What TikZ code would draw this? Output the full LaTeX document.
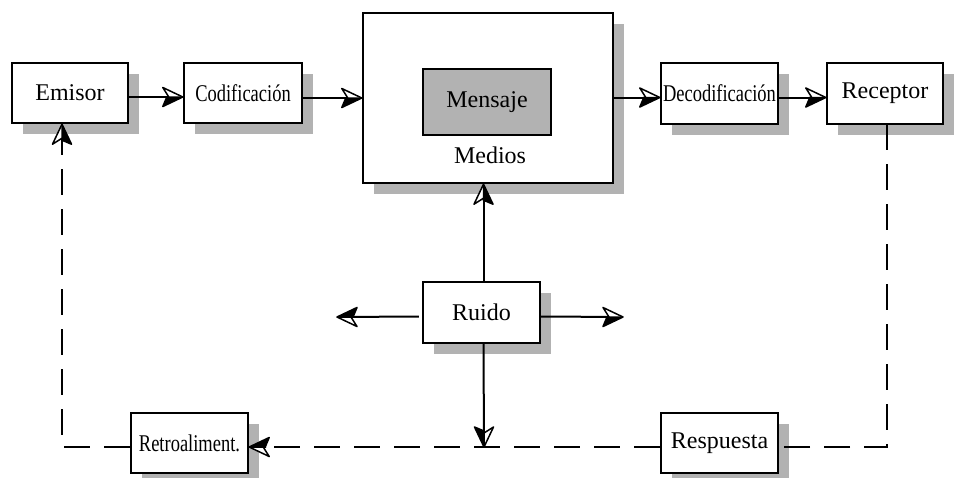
\documentclass[tikz,border=0pt]{standalone}
\usepackage{fontspec}
\setmainfont{Liberation Serif}
\usepackage{graphicx}
\usetikzlibrary{shadows}
\tikzset{
  txt/.style={font=\fontsize{24}{28}\selectfont},
  box/.style={txt, draw, line width=2.4pt, fill=white, minimum width=117pt,
    minimum height=60pt, inner sep=0pt,
    drop shadow={shadow xshift=11pt, shadow yshift=-11pt, fill=black!30, opacity=1}},
  conn/.style={line width=2pt, shorten >=3pt},
  fbline/.style={line width=2pt, dash pattern=on 26pt off 14pt, shorten >=3pt},
  halfhead/.pic={
    \fill[white]
      (0,0) -- (-20,-9.5) -- (-14,0) -- cycle;
    \filldraw[black, line width=1.5pt, line join=round, solid]
      (0,0) -- (-20,9.5) -- (-16,0) -- cycle;
    \draw[black, line width=1.5pt, line join=round, solid]
      (0,0) -- (-20,-9.5) -- (-14,0) -- (-17,0);
  }
}
\begin{document}
\begin{tikzpicture}[x=1pt, y=-1pt]
\useasboundingbox (0,0) rectangle (957,477);
% nodes
\node[box, minimum width=116pt] (emisor) at (70,93) {Emisor};
\node[box, minimum width=118pt] (codif) at (243,93) {\scalebox{0.77}[1]{Codificación}};
\node[box, minimum width=250pt, minimum height=170pt] (medios) at (488,98) {};
\node[txt, draw, line width=2.4pt, fill=black!30, minimum width=128pt, minimum height=66pt, inner sep=0pt] (mensaje) at (487,102) {Mensaje};
\node[txt, inner sep=0pt] (mediostxt) at (490,155) {Medios};
\node[box, minimum height=61pt] (decodif) at (719.5,93.5) {\scalebox{0.77}[1]{Decodificación}};
\node[box, minimum width=116pt, minimum height=61pt] (receptor) at (885,93.5) {Receptor};
\node[box, minimum height=61pt] (ruido) at (481.5,312.5) {Ruido};
\node[box] (retro) at (189.5,443) {\scalebox{0.77}[1]{Retroaliment.}};
\node[box] (respuesta) at (719.5,443) {Respuesta};
% end points
\coordinate (t1) at ([yshift=-4pt]codif.west);
\coordinate (t2) at (medios.west);
\coordinate (t3) at ([yshift=-4pt]decodif.west);
\coordinate (t4) at ([yshift=-4pt]receptor.west);
\coordinate (tu) at ([xshift=2pt]ruido.north |- medios.south);
\coordinate (nl) at (337,317);
\coordinate (nr) at (623,317);
\coordinate (nd) at (484,447);
\coordinate (rs) at (887,124);
\coordinate (tr) at ([yshift=-4pt]retro.east);
\coordinate (es) at ([xshift=-8pt]emisor.south);
% forward connectors
\draw[conn] ([yshift=-4pt]emisor.east) -- (t1);
\draw[conn] (codif.east |- t2) -- (t2);
\draw[conn] (medios.east |- t3) -- (t3);
\draw[conn] ([yshift=-4pt]decodif.east) -- (t4);
% noise
\draw[conn] ([xshift=2pt]ruido.north) -- (tu);
\draw[conn] ([xshift=-3pt, yshift=-4pt]ruido.west) -- (nl);
\draw[conn] ([yshift=-4pt]ruido.east) -- (nr);
\draw[conn] ([xshift=2pt]ruido.south) -- (nd);
% feedback loop
\draw[fbline, shorten >=0pt] (rs) |- ([yshift=-4pt]respuesta.east);
\draw[fbline] ([yshift=-4pt]respuesta.west) -- (tr);
\draw[fbline] ([yshift=-4pt]retro.west) -| (es);
% arrow heads
\pic at (t1) {halfhead};
\pic at (t2) {halfhead};
\pic at (t3) {halfhead};
\pic at (t4) {halfhead};
\pic at (nr) {halfhead};
\pic[rotate=90] at (tu) {halfhead};
\pic[rotate=90] at (es) {halfhead};
\pic[rotate=180] at (nl) {halfhead};
\pic[rotate=180] at (tr) {halfhead};
\pic[rotate=-90] at (nd) {halfhead};
\end{tikzpicture}
\end{document}
